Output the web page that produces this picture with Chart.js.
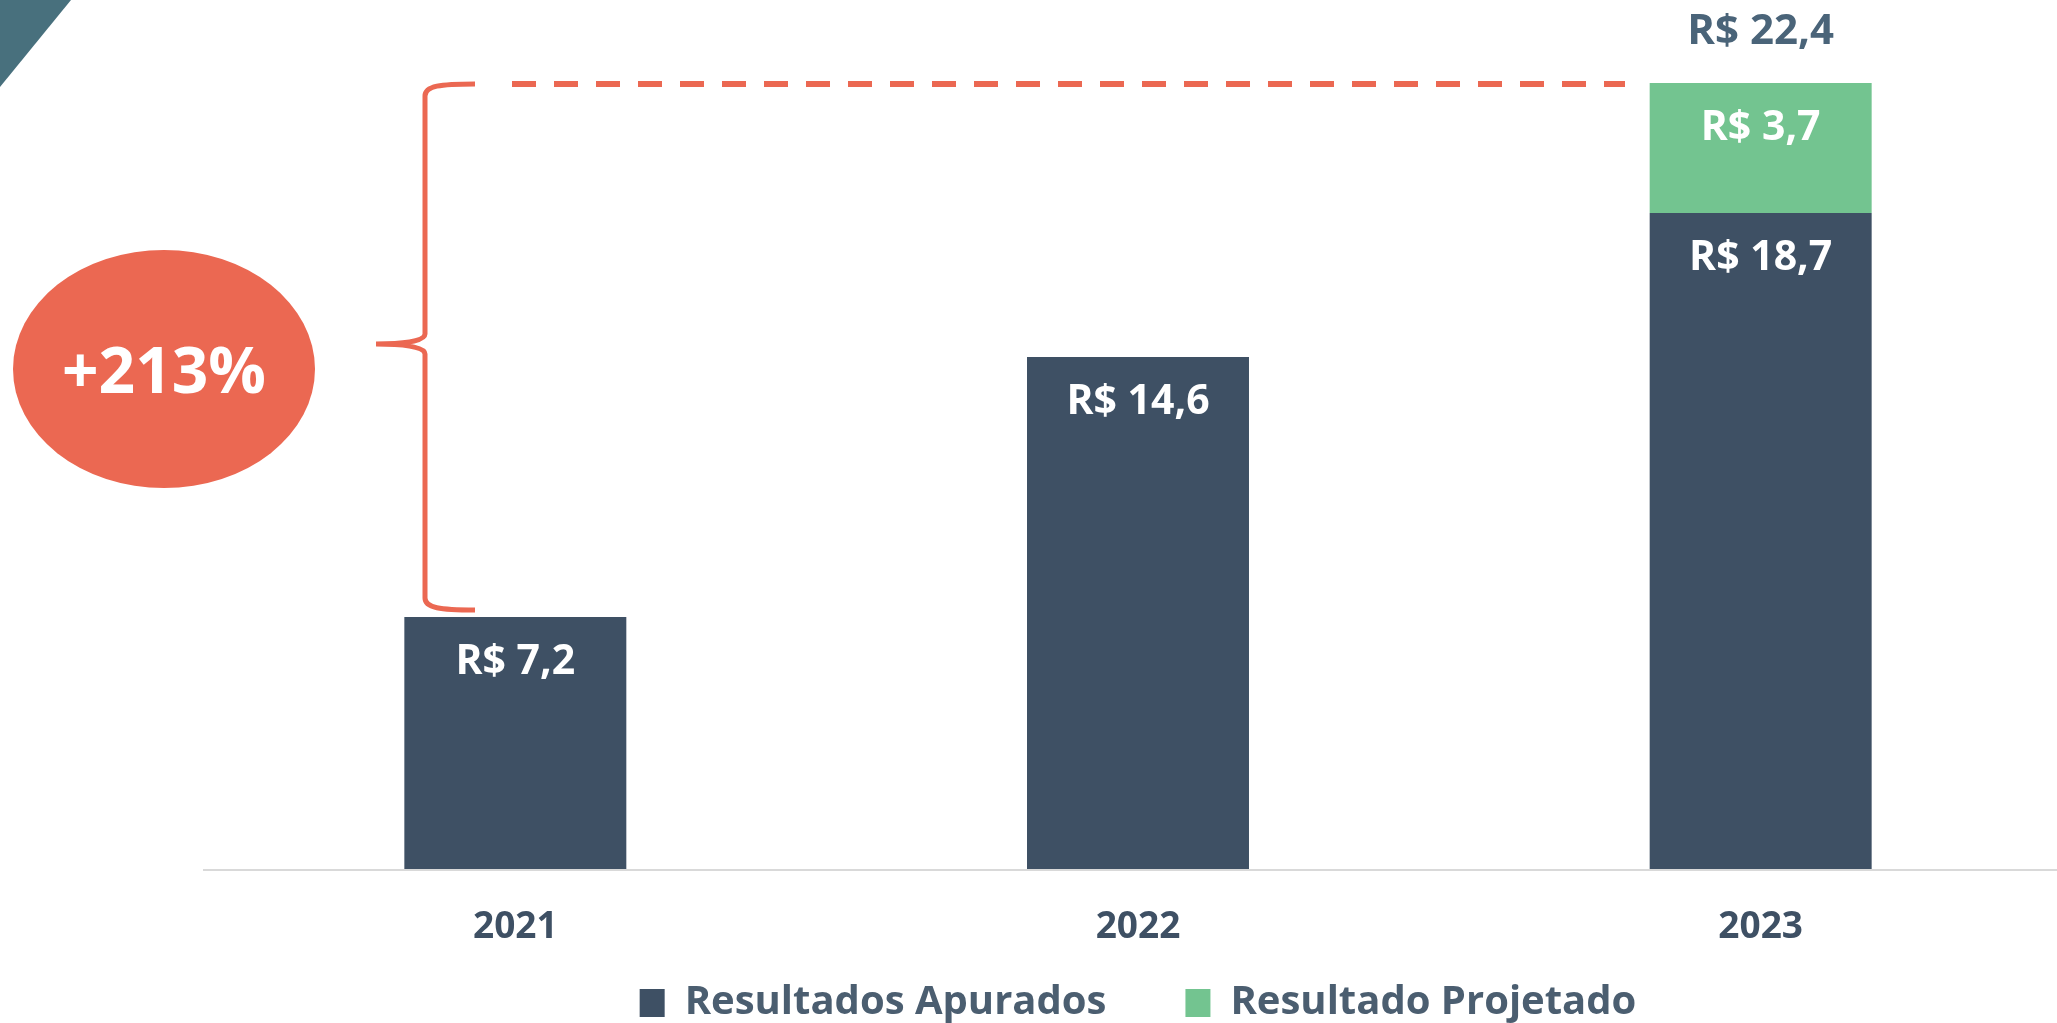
<!DOCTYPE html>
<html>
<head>
<meta charset="utf-8">
<script src="https://cdn.jsdelivr.net/npm/chart.js@4/dist/chart.umd.min.js"></script>
<style>
  html, body { margin: 0; padding: 0; background: #fff; overflow: hidden; }
  #wrap { width: 2072px; height: 1023px; position: relative; }
</style>
</head>
<body>
<div id="wrap"><canvas id="barChart"></canvas></div>
<script>
const years = ['2021', '2022', '2023'];
const apurados = [7.2, 14.6, 18.7];
const projetado = [null, null, 3.7];
const seriesNames = ['Resultados Apurados', 'Resultado Projetado'];
const growthLabel = '+213%';

const DARK = '#3E5064';
const GREEN = '#73C490';
const ORANGE = '#EB6852';
const FONT = '"Open Sans", sans-serif';

const fmt = v => 'R$ ' + v.toFixed(1).replace('.', ',');

// annotations: corner shape, +213% bubble, brace, dashed guide, value labels
const decor = {
  id: 'decor',
  afterDatasetsDraw(chart) {
    const ctx = chart.ctx;
    const y = chart.scales.y;
    const x = chart.scales.x;

    ctx.save();
    ctx.textAlign = 'center';
    ctx.textBaseline = 'alphabetic';

    // value labels inside the bars
    ctx.fillStyle = '#fff';
    ctx.font = 'bold 41px ' + FONT;
    chart.data.datasets.forEach((ds, di) => {
      chart.getDatasetMeta(di).data.forEach((bar, i) => {
        const v = ds.data[i];
        if (v == null) return;
        ctx.fillText(fmt(v), bar.x, bar.y + 57);
      });
    });

    // totals above the stacked bars
    ctx.fillStyle = '#4A6479';
    ctx.font = 'bold 42px ' + FONT;
    projetado.forEach((p, i) => {
      if (p == null) return;
      const total = apurados[i] + p;
      ctx.fillText(fmt(total), x.getPixelForValue(i), y.getPixelForValue(total) - 39);
    });

    // category labels under the axis (drawn here so the legend can sit close)
    ctx.fillStyle = DARK;
    ctx.font = 'bold 37px ' + FONT;
    years.forEach((yr, i) => {
      ctx.fillText(yr, x.getPixelForValue(i), y.getPixelForValue(0) + 68);
    });
    ctx.restore();

    // brace from 2021 up to 2023 total
    const last = apurados.length - 1;
    const top = y.getPixelForValue(apurados[last] + projetado[last]) + 1;
    const bot = y.getPixelForValue(apurados[0]) - 7;
    const mid = (top + bot) / 2 - 3;
    const vx = 425, hx = 475, tx = 376;
    ctx.save();
    ctx.strokeStyle = ORANGE;
    ctx.lineWidth = 5;
    ctx.beginPath();
    ctx.moveTo(hx, top);
    ctx.bezierCurveTo(440, top, vx, top + 2, vx, top + 12);
    ctx.lineTo(vx, mid - 10);
    ctx.bezierCurveTo(vx, mid - 2, 400, mid, tx, mid);
    ctx.moveTo(tx, mid);
    ctx.bezierCurveTo(400, mid, vx, mid + 2, vx, mid + 10);
    ctx.lineTo(vx, bot - 12);
    ctx.bezierCurveTo(vx, bot - 2, 440, bot, hx, bot);
    ctx.stroke();

    // dashed guide line
    ctx.lineWidth = 6;
    ctx.setLineDash([24, 18]);
    ctx.beginPath();
    ctx.moveTo(512, top);
    ctx.lineTo(1625, top);
    ctx.stroke();
    ctx.restore();
  },
  afterDraw(chart) {
    const ctx = chart.ctx;
    ctx.save();
    // corner triangle
    ctx.fillStyle = '#48707D';
    ctx.beginPath();
    ctx.moveTo(0, 0);
    ctx.lineTo(71, 0);
    ctx.lineTo(0, 87);
    ctx.closePath();
    ctx.fill();

    // growth bubble
    ctx.fillStyle = ORANGE;
    ctx.beginPath();
    ctx.ellipse(164, 369, 151, 119, 0, 0, Math.PI * 2);
    ctx.fill();
    ctx.fillStyle = '#fff';
    ctx.font = 'bold 64px ' + FONT;
    ctx.textAlign = 'center';
    ctx.textBaseline = 'alphabetic';
    ctx.fillText(growthLabel, 164, 393);
    ctx.restore();
  }
};

new Chart(document.getElementById('barChart').getContext('2d'), {
  type: 'bar',
  data: {
    labels: years,
    datasets: [{
      label: seriesNames[0],
      data: apurados,
      backgroundColor: DARK,
      borderWidth: 0,
      barPercentage: 0.3565,
      categoryPercentage: 1,
    }, {
      label: seriesNames[1],
      data: projetado,
      backgroundColor: GREEN,
      borderWidth: 0,
      barPercentage: 0.3565,
      categoryPercentage: 1,
    }],
  },
  options: {
    responsive: true,
    maintainAspectRatio: false,
    animation: false,
    layout: { padding: { left: 204, right: 0, top: 0, bottom: -10 } },
    scales: {
      x: {
        stacked: true,
        grid: { display: false, drawTicks: false },
        border: { display: true, color: '#D9D9D9', width: 2, z: 1 },
        ticks: { display: false },
        afterFit(scale) { scale.height = 34; },
      },
      y: {
        stacked: true,
        display: false,
        min: 0,
        max: 24.76,
      },
    },
    plugins: {
      tooltip: { enabled: false },
      legend: {
        position: 'bottom',
        fullSize: false,
        labels: {
          boxWidth: 25,
          boxHeight: 28,
          padding: 79,
          color: '#4B5E70',
          font: { family: FONT, size: 40, weight: 'bold' },
        },
      },
    },
  },
  plugins: [decor],
});
</script>
</body>
</html>
